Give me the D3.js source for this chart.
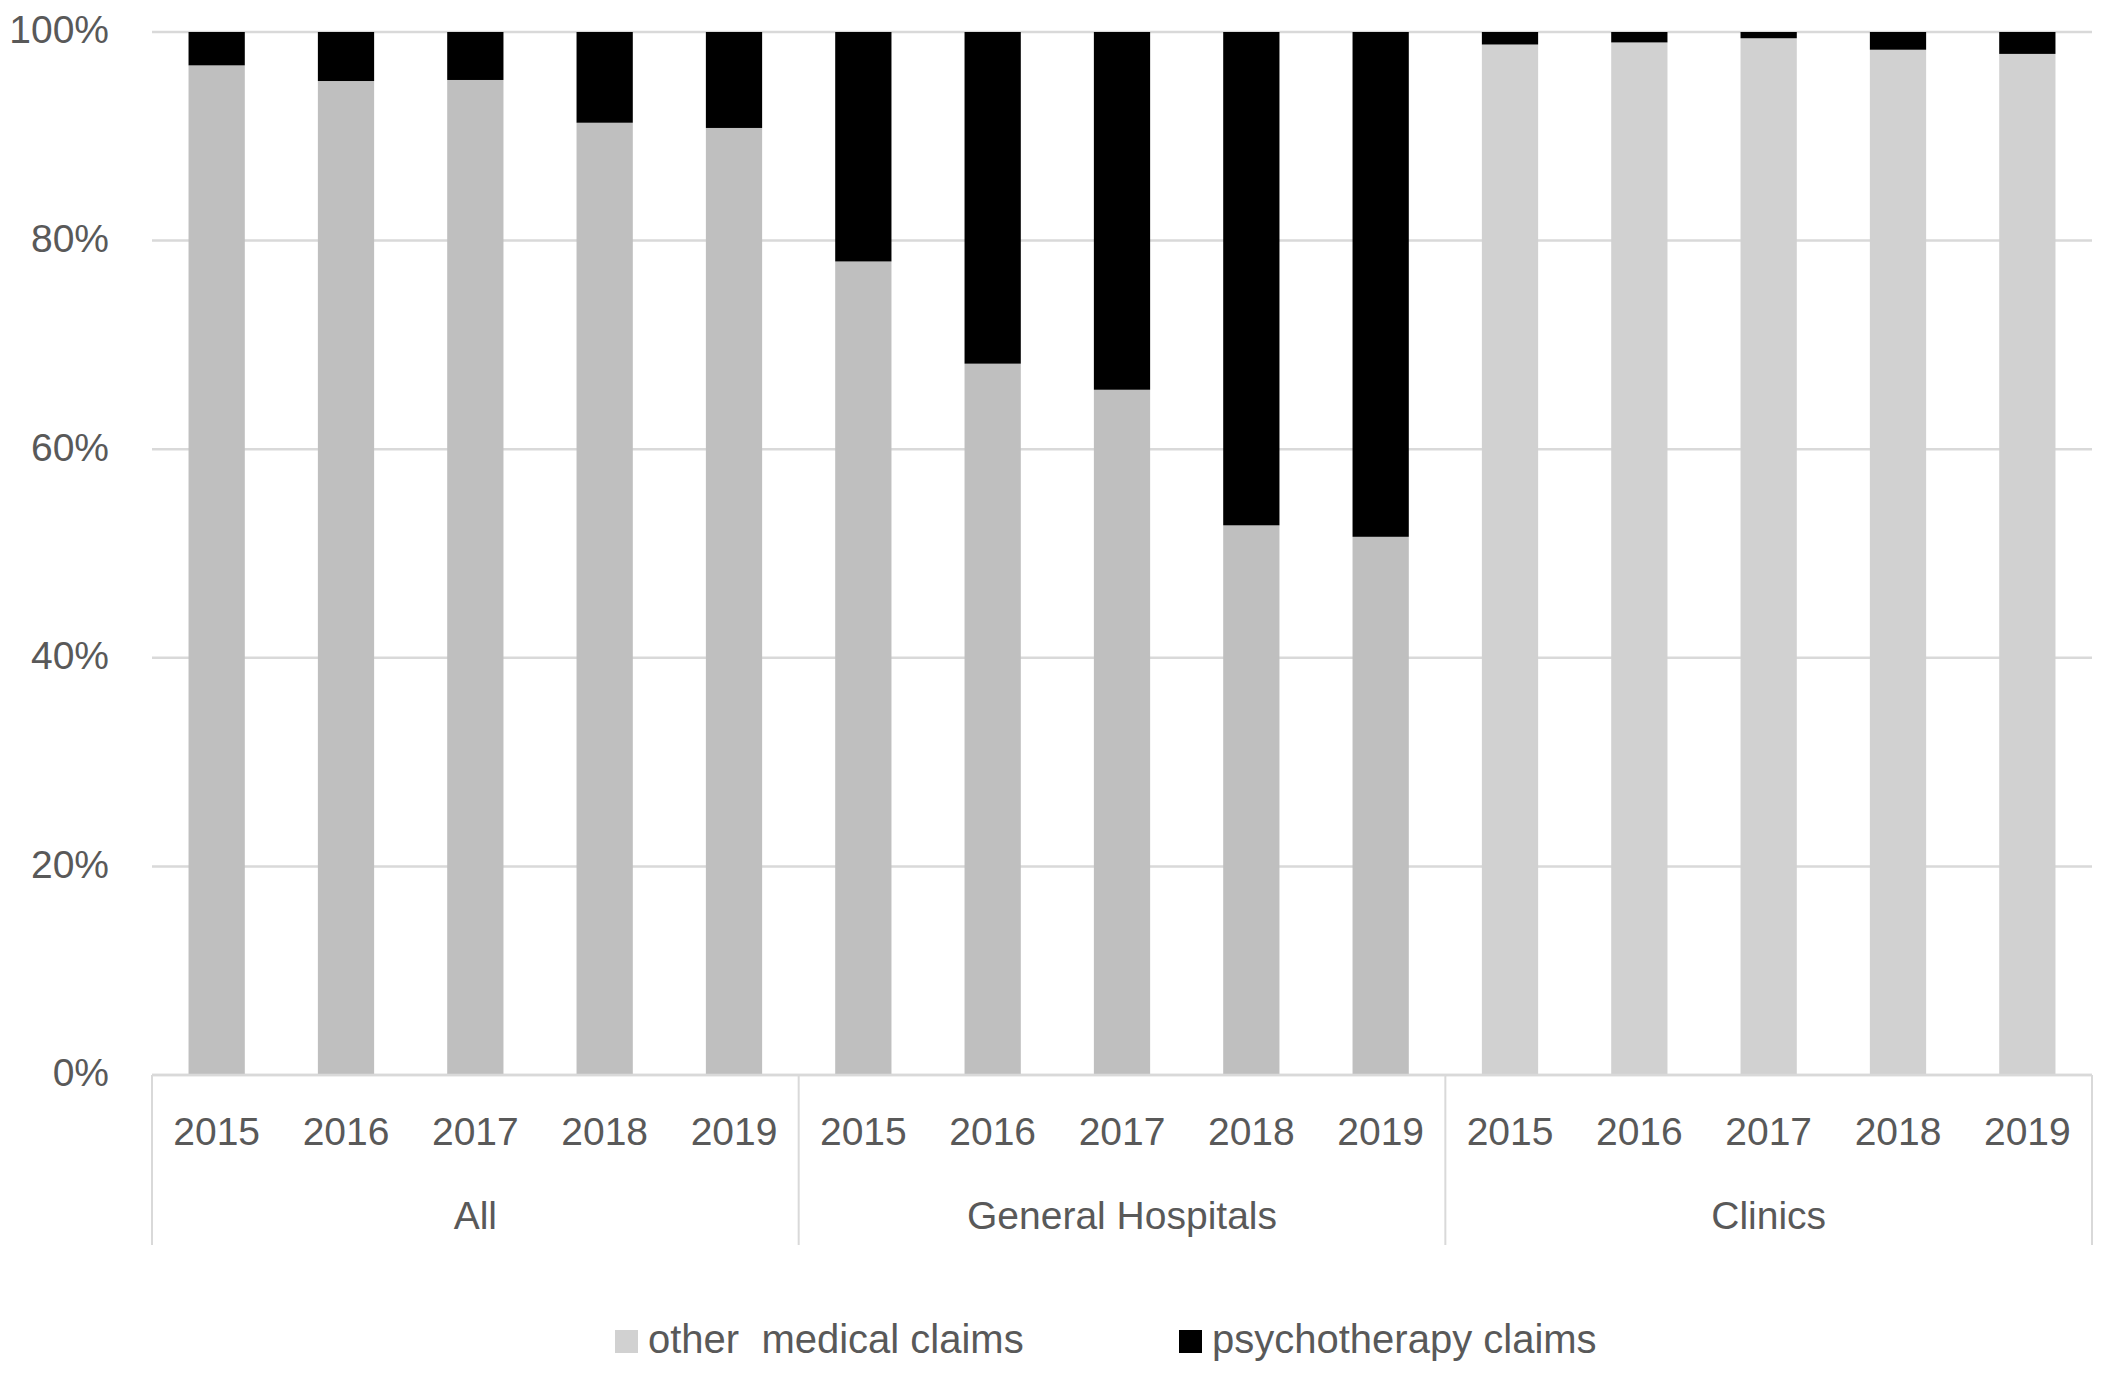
<!DOCTYPE html>
<html>
<head>
<meta charset="utf-8">
<script src="https://cdn.jsdelivr.net/npm/d3@7"></script>
<style>
  body { margin: 0; background: #ffffff; }
  text { font-family: "Liberation Sans", Arial, sans-serif; fill: #595959; }
</style>
</head>
<body>
<div id="chart"></div>
<script>
// categories
var groups = ["All", "General Hospitals", "Clinics"];
var years = ["2015", "2016", "2017", "2018", "2019"];
var series_names = ["other  medical claims", "psychotherapy claims"];
var y_ticks = [0, 0.2, 0.4, 0.6, 0.8, 1];

// share of other medical claims (%)
var other_all = [96.8, 95.3, 95.4, 91.3, 90.8];
var other_general = [78.0, 68.2, 65.7, 52.7, 51.6];
var other_clinics = [98.8, 99.0, 99.4, 98.3, 97.9];
// share of psychotherapy claims (%)
var psy_all = [3.2, 4.7, 4.6, 8.7, 9.2];
var psy_general = [22.0, 31.8, 34.3, 47.3, 48.4];
var psy_clinics = [1.2, 1.0, 0.6, 1.7, 2.1];

var other_by_group = [other_all, other_general, other_clinics];
var psy_by_group = [psy_all, psy_general, psy_clinics];

//size and layout
var width = 2105, height = 1374;
var plot_left = 152, plot_right = 2092;
var plot_top = 32, plot_bottom = 1075;
var font_size = 39;
var grid_color = "#d9d9d9";
var other_colors = {"All": "#bfbfbf", "General Hospitals": "#bfbfbf", "Clinics": "#d1d1d1"};
var legend_other_color = "#d1d1d1";
var psy_color = "#000000";

//build table for stack
var table = [];
groups.forEach(function(g, gi){
  years.forEach(function(y, yi){
    table.push({
      key: g + "|" + y,
      group: g,
      year: y,
      other: other_by_group[gi][yi],
      psy: psy_by_group[gi][yi]
    });
  });
});

var stacked = d3.stack()
  .keys(["other", "psy"])
  .offset(d3.stackOffsetExpand)(table);

var svg = d3.select("#chart")
  .append("svg")
  .attr("width", width)
  .attr("height", height)
  .style("display", "block");

svg.append("rect").attr("width", width).attr("height", height).style("fill", "#ffffff");

var x = d3.scaleBand()
  .domain(table.map(function(d){ return d.key; }))
  .range([plot_left, plot_right])
  .paddingInner(0.565)
  .paddingOuter(0.2825);

var y = d3.scaleLinear()
  .domain([0, 1])
  .range([plot_bottom, plot_top]);

//gridlines
svg.append("g")
  .selectAll("line")
  .data(y_ticks)
  .enter().append("line")
  .attr("x1", plot_left).attr("x2", plot_right)
  .attr("y1", function(d){ return y(d); })
  .attr("y2", function(d){ return y(d); })
  .style("stroke", grid_color)
  .style("stroke-width", 2.5);

//y axis labels
var y_axis = svg.append("g")
  .attr("transform", "translate(" + (plot_left - 43) + ",0)")
  .call(d3.axisLeft(y).tickValues(y_ticks).tickSize(0).tickPadding(0).tickFormat(d3.format(".0%")));
y_axis.select(".domain").remove();
y_axis.selectAll("text")
  .style("font-size", font_size + "px")
  .style("font-family", "Liberation Sans, Arial, sans-serif")
  .attr("fill", "#595959")
  .attr("dy", "0.28em");

//bars
svg.append("g")
  .selectAll("g")
  .data(stacked)
  .enter().append("g")
  .each(function(layer){
    d3.select(this).selectAll("rect")
      .data(layer)
      .enter().append("rect")
      .attr("x", function(d){ return x(d.data.key); })
      .attr("width", x.bandwidth())
      .attr("y", function(d){ return y(d[1]); })
      .attr("height", function(d){ return y(d[0]) - y(d[1]); })
      .style("fill", function(d){
        return layer.key == "psy" ? psy_color : other_colors[d.data.group];
      });
  });

//bottom axis line
svg.append("line")
  .attr("x1", plot_left).attr("x2", plot_right)
  .attr("y1", plot_bottom).attr("y2", plot_bottom)
  .style("stroke", grid_color)
  .style("stroke-width", 2.5);

//year labels
var x_axis = svg.append("g")
  .attr("transform", "translate(0," + plot_bottom + ")")
  .call(d3.axisBottom(x).tickSize(0).tickPadding(0).tickFormat(function(k){ return k.split("|")[1]; }));
x_axis.select(".domain").remove();
x_axis.selectAll("text")
  .style("font-size", font_size + "px")
  .style("font-family", "Liberation Sans, Arial, sans-serif")
  .attr("fill", "#595959")
  .attr("y", 70)
  .attr("dy", 0);

//group separators and labels
var group_scale = d3.scaleBand().domain(groups).range([plot_left, plot_right]);
var sep_positions = groups.map(function(g){ return group_scale(g); }).concat([plot_right]);

svg.append("g")
  .selectAll("line")
  .data(sep_positions)
  .enter().append("line")
  .attr("x1", function(d){ return d; })
  .attr("x2", function(d){ return d; })
  .attr("y1", plot_bottom)
  .attr("y2", 1245)
  .style("stroke", grid_color)
  .style("stroke-width", 2);

svg.append("g")
  .selectAll("text")
  .data(groups)
  .enter().append("text")
  .attr("x", function(d){ return group_scale(d) + group_scale.bandwidth()/2; })
  .attr("y", 1229)
  .attr("text-anchor", "middle")
  .style("font-size", font_size + "px")
  .text(function(d){ return d; });

//legend
var legend_items = [
  {name: series_names[0], color: legend_other_color, x: 615},
  {name: series_names[1], color: psy_color, x: 1179}
];
var legend = svg.append("g")
  .selectAll("g")
  .data(legend_items)
  .enter().append("g")
  .attr("transform", function(d){ return "translate(" + d.x + ",0)"; });
legend.append("rect")
  .attr("x", 0).attr("y", 1330)
  .attr("width", 23).attr("height", 23)
  .style("fill", function(d){ return d.color; });
legend.append("text")
  .attr("x", 33)
  .attr("y", 1353)
  .attr("xml:space", "preserve")
  .style("white-space", "pre")
  .style("font-size", "40px")
  .text(function(d){ return d.name; });
</script>
</body>
</html>
